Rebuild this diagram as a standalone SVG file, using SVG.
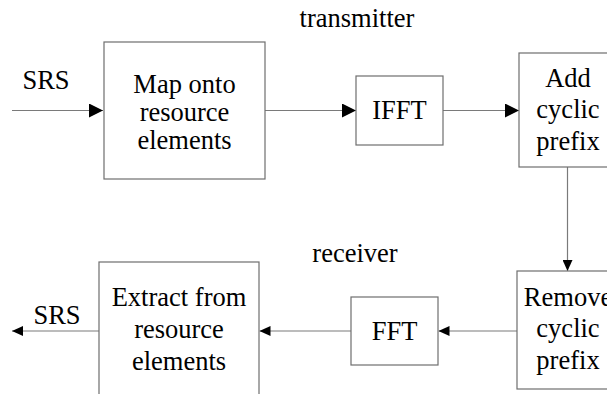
<svg xmlns="http://www.w3.org/2000/svg" width="607" height="394" viewBox="0 0 607 394">
<style>
.box{fill:#fff;stroke:#6e6e6e;stroke-width:1.2}
.ln{fill:none;stroke:#7a7a7a;stroke-width:1.2}
text{font-family:"Liberation Serif","Times New Roman",serif;font-size:26.5px;fill:#000}
.c{text-anchor:middle}
</style>
<defs>
<marker id="big" markerWidth="14" markerHeight="14" refX="14" refY="7" orient="auto" markerUnits="userSpaceOnUse"><path d="M0,0 L14,7 L0,14 z" fill="#000"/></marker>
<marker id="sm" markerWidth="11" markerHeight="10" refX="11" refY="5" orient="auto" markerUnits="userSpaceOnUse"><path d="M0,0 L11,5 L0,10 z" fill="#000"/></marker>
</defs>
<rect width="607" height="394" fill="#fff"/>
<text x="357" y="27" class="c">transmitter</text>
<text x="355" y="262" class="c">receiver</text>
<g id="connectors">
<line class="ln" x1="12" y1="110.5" x2="103" y2="110.5" marker-end="url(#big)"/>
<line class="ln" x1="265" y1="110.5" x2="356" y2="110.5" marker-end="url(#big)"/>
<line class="ln" x1="443" y1="110.5" x2="519" y2="110.5" marker-end="url(#big)"/>
<line class="ln" x1="567.5" y1="167" x2="567.5" y2="271" marker-end="url(#sm)"/>
<line class="ln" x1="517" y1="331" x2="438.5" y2="331" marker-end="url(#sm)"/>
<line class="ln" x1="351" y1="331" x2="259.5" y2="331" marker-end="url(#sm)"/>
<line class="ln" x1="99" y1="331" x2="12" y2="331" marker-end="url(#sm)"/>
</g>
<text x="46" y="89" class="c">SRS</text>
<text x="57" y="324" class="c">SRS</text>
<g id="map">
<rect class="box" x="104" y="42" width="161" height="137"/>
<text class="c" x="184.5" y="93">Map onto</text>
<text class="c" x="184.5" y="121">resource</text>
<text class="c" x="184.5" y="149">elements</text>
</g>
<g id="ifft">
<rect class="box" x="356" y="76" width="87" height="69"/>
<text class="c" x="399.5" y="119">IFFT</text>
</g>
<g id="addcp">
<rect class="box" x="519" y="53" width="100" height="114"/>
<text class="c" x="568" y="87">Add</text>
<text class="c" x="568" y="118">cyclic</text>
<text class="c" x="568" y="150">prefix</text>
</g>
<g id="removecp">
<rect class="box" x="517" y="271" width="100" height="118"/>
<text class="c" x="568" y="306">Remove</text>
<text class="c" x="568" y="337">cyclic</text>
<text class="c" x="568" y="369">prefix</text>
</g>
<g id="fft">
<rect class="box" x="351" y="297" width="87" height="68"/>
<text class="c" x="394.5" y="340">FFT</text>
</g>
<g id="extract">
<rect class="box" x="99" y="262" width="160" height="140"/>
<text class="c" x="179" y="306">Extract from</text>
<text class="c" x="179" y="338">resource</text>
<text class="c" x="179" y="370">elements</text>
</g>
</svg>
